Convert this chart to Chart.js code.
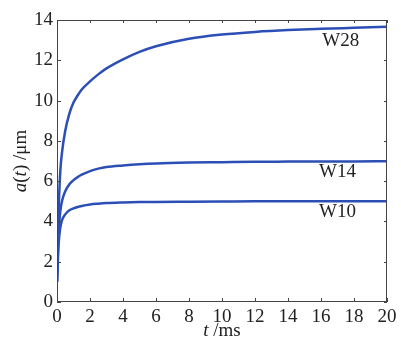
<!DOCTYPE html>
<html>
<head>
<meta charset="utf-8">
<script src="https://cdn.jsdelivr.net/npm/chart.js@4"></script>
<style>
  html, body { margin: 0; padding: 0; background: #fff; }
  #wrap { width: 401px; height: 345px; position: relative; }
</style>
</head>
<body>
<div id="wrap"><canvas id="curves"></canvas></div>
<script>
// time axis (ms)
const tValues = [0, 0.05, 0.1, 0.2, 0.3, 0.5, 0.75, 1, 1.25, 1.5, 2, 2.5, 3, 4, 5, 6, 8, 10, 12, 14, 16, 18, 20];
// a(t) in um for each sample
const w28 = [1.0, 3.2, 4.6, 6.5, 7.4, 8.5, 9.35, 9.9, 10.25, 10.55, 10.95, 11.3, 11.6, 12.05, 12.42, 12.7, 13.07, 13.28, 13.41, 13.5, 13.56, 13.61, 13.66];
const w14 = [1.0, 2.4, 3.5, 4.5, 5.0, 5.5, 5.85, 6.05, 6.2, 6.32, 6.5, 6.62, 6.7, 6.78, 6.84, 6.88, 6.92, 6.94, 6.96, 6.97, 6.98, 6.98, 6.99];
const w10 = [1.0, 2.0, 2.9, 3.7, 4.05, 4.35, 4.55, 4.65, 4.72, 4.77, 4.84, 4.88, 4.91, 4.94, 4.96, 4.97, 4.98, 4.99, 5.0, 5.0, 5.0, 5.0, 5.0];
const seriesNames = ["W28", "W14", "W10"];
const xTicks = [0, 2, 4, 6, 8, 10, 12, 14, 16, 18, 20];
const yTicks = [0, 2, 4, 6, 8, 10, 12, 14];

const lineBlue = '#2c4fb6'
const serif = '"Liberation Serif", "Times New Roman", serif'

function toPoints(arr){
    return tValues.map((t, i) => ({x: t, y: arr[i]}))
}

// where the curve names sit, in data units
const nameSpots = [[17.2, 12.95], [17.0, 6.45], [17.0, 4.47]]

const framePlugin = {
    id: 'frameAndLabels',
    afterDraw(chart){
        const ctx = chart.ctx
        const a = chart.chartArea
        const xs = chart.scales.x
        const ys = chart.scales.y
        ctx.save()
        // box round the plot
        ctx.strokeStyle = '#444'
        ctx.lineWidth = 1
        ctx.strokeRect(a.left + 0.5, a.top + 0.5, a.right - a.left - 1, a.bottom - a.top - 1)

        // inward ticks on all four sides
        ctx.beginPath()
        xTicks.forEach(v => {
            const px = Math.round(xs.getPixelForValue(v)) + 0.5
            ctx.moveTo(px, a.bottom); ctx.lineTo(px, a.bottom - 4)
            ctx.moveTo(px, a.top); ctx.lineTo(px, a.top + 3)
        })
        yTicks.forEach(v => {
            const py = Math.round(ys.getPixelForValue(v)) + 0.5
            ctx.moveTo(a.left, py); ctx.lineTo(a.left + 4, py)
            ctx.moveTo(a.right, py); ctx.lineTo(a.right - 3, py)
        })
        ctx.stroke()

        // curve names
        ctx.fillStyle = '#222'
        ctx.font = '19px ' + serif
        ctx.textAlign = 'center'
        ctx.textBaseline = 'middle'
        seriesNames.forEach((n, i) => {
            ctx.fillText(n, xs.getPixelForValue(nameSpots[i][0]), ys.getPixelForValue(nameSpots[i][1]))
        })

        // x title: t /ms
        const xmid = (a.left + a.right) / 2
        ctx.textAlign = 'left'
        ctx.font = 'italic 19px ' + serif
        const tW = ctx.measureText('t').width
        ctx.font = '19px ' + serif
        const restW = ctx.measureText(' /ms').width
        let sx = xmid - (tW + restW) / 2
        ctx.font = 'italic 19px ' + serif
        ctx.fillText('t', sx, 331)
        ctx.font = '19px ' + serif
        ctx.fillText(' /ms', sx + tW, 331)

        // y title: a(t) /um, rotated
        ctx.translate(21, (a.top + a.bottom) / 2)
        ctx.rotate(-Math.PI / 2)
        const parts = [['a', true], ['(', false], ['t', true], [') /\u03bcm', false]]
        let total = 0
        parts.forEach(p => {
            ctx.font = (p[1] ? 'italic ' : '') + '19px ' + serif
            total += ctx.measureText(p[0]).width
        })
        let cx = -total / 2
        parts.forEach(p => {
            ctx.font = (p[1] ? 'italic ' : '') + '19px ' + serif
            ctx.fillText(p[0], cx, 0)
            cx += ctx.measureText(p[0]).width
        })
        ctx.restore()
    }
}

const ctx = document.getElementById('curves').getContext('2d')
const curveChart = new Chart(ctx, {
    type: 'line',
    data: {
        datasets: [w28, w14, w10].map((arr, i) => ({
            label: seriesNames[i],
            data: toPoints(arr),
            borderColor: lineBlue,
            borderWidth: 2.5,
            pointRadius: 0,
            fill: false,
            cubicInterpolationMode: 'monotone'
        }))
    },
    options: {
        responsive: true,
        maintainAspectRatio: false,
        animation: false,
        layout: { padding: { left: 0, right: 14, top: 20, bottom: 0 } },
        plugins: {
            legend: { display: false },
            tooltip: { enabled: false }
        },
        scales: {
            x: {
                type: 'linear',
                min: 0, max: 20,
                afterFit(s){ s.height = 43 },
                afterBuildTicks(s){ s.ticks = xTicks.map(v => ({value: v})) },
                grid: { display: false, drawTicks: false },
                border: { display: false },
                ticks: { color: '#222', padding: 4, maxRotation: 0, autoSkip: false, font: { family: serif, size: 19 } }
            },
            y: {
                min: 0, max: 14,
                afterFit(s){ s.width = 57 },
                afterBuildTicks(s){ s.ticks = yTicks.map(v => ({value: v})) },
                grid: { display: false, drawTicks: false },
                border: { display: false },
                ticks: { color: '#222', padding: 4, font: { family: serif, size: 19 } }
            }
        }
    },
    plugins: [framePlugin]
})
</script>
</body>
</html>
